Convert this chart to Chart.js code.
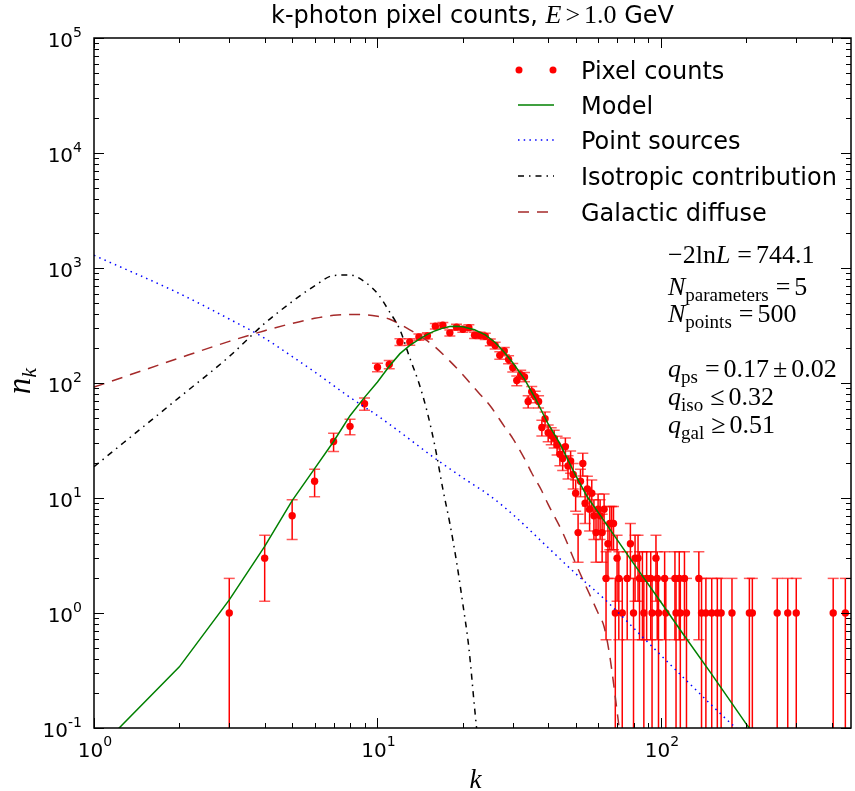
<!DOCTYPE html>
<html>
<head>
<meta charset="utf-8">
<title>k-photon pixel counts</title>
<script src="https://cdn.jsdelivr.net/npm/chart.js@4.4.1/dist/chart.umd.min.js"></script>
<style>
  html, body { margin: 0; padding: 0; background: #fff; }
  canvas { display: block; }
</style>
</head>
<body>
<canvas id="chart" width="855" height="791"></canvas>
<script>
// pixel counts n_k (k = photons per pixel); n_k = 0 is not shown
const countK = [3, 4, 5, 6, 7, 8, 9, 10, 11, 12, 13, 14, 15, 16, 17, 18, 19, 20, 21, 22,
  23, 24, 25, 26, 27, 28, 29, 30, 31, 32, 33, 34, 35, 36, 37, 38, 39, 40, 41, 42,
  43, 44, 45, 46, 47, 48, 49, 50, 51, 52, 53, 54, 55, 56, 57, 58, 59, 60, 61, 62,
  63, 64, 65, 66, 67, 68, 69, 70, 71, 73, 76, 78, 80, 81, 83, 84, 86, 87, 89, 92,
  93, 96, 97, 98, 103, 104, 112, 113, 116, 117, 121, 123, 136, 139, 144, 151, 158, 163, 178, 205,
  210, 257, 280, 300, 405, 447];
const countN = [1, 3, 7, 14, 31, 42, 66, 137, 145, 227, 228, 251, 257, 312, 318, 273, 306, 293, 303, 260,
  260, 255, 226, 212, 174, 190, 160, 136, 105, 118, 113, 69, 84, 76, 69, 41, 49, 37, 35, 33,
  29, 24, 22, 28, 19, 21, 16, 11, 5, 14, 20, 9, 12, 8, 11, 7, 5, 8, 7, 5,
  8, 2, 4, 6, 6, 6, 1, 3, 2, 1, 2, 4, 1, 3, 3, 2, 2, 1, 2, 2,
  1, 3, 2, 1, 2, 1, 2, 1, 2, 1, 2, 1, 2, 1, 1, 1, 1, 1, 1, 1,
  1, 1, 1, 1, 1, 1];

// fitted model and its three components
const modelK = [1, 2, 3, 4, 5, 6, 7, 8, 9, 10, 11, 12, 13, 14, 15, 16, 17, 18, 19, 20,
  22, 24, 26, 28, 30, 33, 36, 40, 44, 50, 55, 61, 70, 80, 100, 120, 150, 200, 210];
const modelN = [0.06, 0.34, 1.3, 3.8, 9.5, 18, 31, 52, 75, 102, 140, 180, 212, 240, 265, 285, 300, 310, 312, 308,
  290, 262, 225, 185, 150, 108, 74, 44, 29.7, 15.7, 10.2, 7.1, 4.35, 2.7, 1.24, 0.65, 0.30, 0.108, 0.093];

const psK = [1, 2, 3, 4, 5, 6, 8, 10, 12, 16, 20, 25, 30, 40, 50, 63, 86, 119, 150, 180, 200];
const psN = [1290, 600, 360, 245, 170, 125, 75, 52, 37.5, 22, 15, 10.4, 7.2, 3.7, 2.2, 1.33, 0.62, 0.28, 0.16, 0.105, 0.085];

const isoK = [1, 2, 3, 4, 5, 6, 7, 8, 9, 10, 11, 12, 13, 14, 15, 16, 17, 18, 19, 20, 21, 22, 23];
const isoN = [18.7, 75, 170, 330, 510, 700, 860, 870, 760, 600, 420, 290, 165, 100, 55, 27, 12, 6, 2.8, 1.2, 0.5, 0.15, 0.05];

const galK = [1, 2, 3, 4, 5, 6, 7, 8, 9, 10, 11, 12, 13, 14, 15, 16, 18, 20, 22, 25,
  28, 30, 33, 35, 38, 40, 45, 50, 55, 60, 63, 66, 70, 72];
const galN = [92, 165, 230, 285, 330, 365, 388, 395, 393, 380, 360, 325, 290, 260, 232, 205, 155, 118, 90, 63,
  42, 33, 22, 16.5, 11.5, 8.8, 5, 2.7, 1.6, 1.0, 0.76, 0.42, 0.14, 0.08];

const xTicks = [1, 10, 100];
const xTickExp = ['0', '1', '2'];
const yTicks = [0.1, 1, 10, 100, 1000, 10000, 100000];
const yTickExp = ['-1', '0', '1', '2', '3', '4', '5'];

const legendLabels = ['Pixel counts', 'Model', 'Point sources', 'Isotropic contribution', 'Galactic diffuse'];

const SANS = '"DejaVu Sans", sans-serif';
const SERIF = '"Liberation Serif", "DejaVu Serif", serif';
const R = px => px + 'px ' + SERIF;
const I = px => 'italic ' + px + 'px ' + SERIF;
const S = px => px + 'px ' + SANS;

const RED = '#ff0000';
const GREEN = '#008000';
const BLUE = '#0000ff';
const BROWN = '#a52a2a';
const DOTS = [1.5, 4.2];
const DASHDOT = [6, 5, 1.5, 5];
const DASHES = [11, 8];

const pts = (xs, ys) => xs.map((x, i) => ({ x: x, y: ys[i] }));

// parts: [text, font, dy] or [gap]
function drawParts(ctx, parts, x, y, align) {
  let w = 0;
  parts.forEach(p => {
    if (typeof p[0] === 'number') { w += p[0]; return; }
    ctx.font = p[1];
    w += ctx.measureText(p[0]).width;
  });
  let cx = align === 'center' ? x - w / 2 : align === 'right' ? x - w : x;
  parts.forEach(p => {
    if (typeof p[0] === 'number') { cx += p[0]; return; }
    ctx.font = p[1];
    ctx.fillText(p[0], cx, y + (p[2] || 0));
    cx += ctx.measureText(p[0]).width;
  });
}

const errorBars = {
  id: 'errorBars',
  beforeDatasetsDraw(chart) {
    const { ctx, chartArea: a, scales: { x, y } } = chart;
    ctx.save();
    ctx.beginPath();
    ctx.rect(a.left, a.top, a.right - a.left, a.bottom - a.top);
    ctx.clip();
    countK.forEach((k, i) => {
      const n = countN[i];
      const e = Math.sqrt(n);
      const px = x.getPixelForValue(k);
      const top = y.getPixelForValue(n + e);
      const lo = n - e;
      const bot = lo > 0 ? y.getPixelForValue(lo) : a.bottom + 2;
      ctx.strokeStyle = RED;
      ctx.lineWidth = 1.5;
      ctx.beginPath();
      ctx.moveTo(px, top);
      ctx.lineTo(px, bot);
      ctx.stroke();
      ctx.strokeStyle = 'rgba(255,0,0,0.65)';
      ctx.beginPath();
      ctx.moveTo(px - 5.5, top); ctx.lineTo(px + 5.5, top);
      if (lo > 0) { ctx.moveTo(px - 5.5, bot); ctx.lineTo(px + 5.5, bot); }
      ctx.stroke();
    });
    ctx.restore();
  }
};

const decorations = {
  id: 'decorations',
  afterDraw(chart) {
    const { ctx, chartArea: a, scales: { x, y } } = chart;
    ctx.save();
    ctx.textAlign = 'left';
    ctx.textBaseline = 'alphabetic';

    // tick marks on all four sides, pointing inwards
    ctx.strokeStyle = '#000';
    ctx.lineWidth = 1;
    ctx.beginPath();
    xTicks.forEach(d => {
      for (let m = 1; m <= 9; m++) {
        const v = m * d;
        if (v > x.max) break;
        const px = Math.round(x.getPixelForValue(v)) + 0.5;
        const len = m === 1 ? 10 : 5;
        ctx.moveTo(px, a.bottom); ctx.lineTo(px, a.bottom - len);
        ctx.moveTo(px, a.top); ctx.lineTo(px, a.top + len);
      }
    });
    yTicks.forEach(d => {
      for (let m = 1; m <= 9; m++) {
        const v = m * d;
        if (v > y.max * 1.0001) break;
        const py = Math.round(y.getPixelForValue(v)) + 0.5;
        const len = m === 1 ? 10 : 5;
        ctx.moveTo(a.left, py); ctx.lineTo(a.left + len, py);
        ctx.moveTo(a.right, py); ctx.lineTo(a.right - len, py);
      }
    });
    ctx.stroke();

    // frame
    ctx.lineWidth = 1.5;
    ctx.strokeRect(a.left, a.top, a.right - a.left, a.bottom - a.top);

    // tick labels
    ctx.fillStyle = '#000';
    xTicks.forEach((v, i) => {
      drawParts(ctx, [['10', S(20)], [xTickExp[i], S(14), -11]], x.getPixelForValue(v) + 1, 757, 'center');
    });
    yTicks.forEach((v, i) => {
      drawParts(ctx, [['10', S(20)], [yTickExp[i], S(14), -10]], 82, y.getPixelForValue(v) + 9, 'right');
    });

    // axis labels and title
    drawParts(ctx, [['k', I(27)]], (a.left + a.right) / 2 + 3, 788, 'center');
    ctx.save();
    ctx.translate(30, 381);
    ctx.rotate(-Math.PI / 2);
    drawParts(ctx, [['n', I(33)], ['k', I(22), 6]], 0, 0, 'center');
    ctx.restore();
    drawParts(ctx, [['k-photon pixel counts, ', S(24)], ['E', I(26)], [4], ['>', R(26)], [4], ['1.0', R(26)], [' GeV', S(24)]],
      (a.left + a.right) / 2, 23, 'center');

    // legend
    const lx0 = 518, lx1 = 554, tx = 581;
    const rowY = [70, 105, 140, 176, 212];
    ctx.fillStyle = RED;
    [lx0 + 1, lx1 - 1].forEach(px => {
      ctx.beginPath(); ctx.arc(px, rowY[0], 3.5, 0, Math.PI * 2); ctx.fill();
    });
    const legLines = [[GREEN, []], [BLUE, DOTS], ['#000', DASHDOT], [BROWN, DASHES]];
    legLines.forEach((l, i) => {
      ctx.strokeStyle = l[0];
      ctx.lineWidth = 1.5;
      ctx.setLineDash(l[1]);
      ctx.beginPath();
      ctx.moveTo(lx0, rowY[i + 1]); ctx.lineTo(lx1, rowY[i + 1]);
      ctx.stroke();
    });
    ctx.setLineDash([]);
    ctx.fillStyle = '#000';
    legendLabels.forEach((t, i) => {
      ctx.font = S(24);
      ctx.fillText(t, tx, rowY[i] + 8.5);
    });

    // fit summary
    const ax = 668;
    const F = 26, SUB = 19;
    const eq = (sym) => [[7], [sym, R(F)], [4]];
    drawParts(ctx, [['\u22122ln', R(F)], ['L', I(F)], ...eq('='), ['744.1', R(F)]], ax, 263, 'left');
    drawParts(ctx, [['N', I(F)], ['parameters', R(SUB), 6], ...eq('='), ['5', R(F)]], ax, 295, 'left');
    drawParts(ctx, [['N', I(F)], ['points', R(SUB), 6], ...eq('='), ['500', R(F)]], ax, 322, 'left');
    drawParts(ctx, [['q', I(F)], ['ps', R(SUB), 6], ...eq('='), ['0.17', R(F)], [4], ['\u00b1', R(F)], [4], ['0.02', R(F)]], ax, 377, 'left');
    drawParts(ctx, [['q', I(F)], ['iso', R(SUB), 6], ...eq('\u2264'), ['0.32', R(F)]], ax, 405, 'left');
    drawParts(ctx, [['q', I(F)], ['gal', R(SUB), 6], ...eq('\u2265'), ['0.51', R(F)]], ax, 433, 'left');
    ctx.restore();
  }
};

const lineSet = (label, xs, ys, color, dash, smooth) => ({
  label: label,
  data: pts(xs, ys),
  showLine: true,
  borderColor: color,
  borderWidth: 1.5,
  borderDash: dash,
  cubicInterpolationMode: smooth ? 'monotone' : 'default',
  pointRadius: 0,
  fill: false,
  order: 0
});

new Chart(document.getElementById('chart'), {
  type: 'scatter',
  data: {
    datasets: [
      {
        label: 'Pixel counts',
        data: pts(countK, countN),
        backgroundColor: RED,
        borderColor: RED,
        pointRadius: 3.7,
        pointBorderWidth: 0,
        order: 1
      },
      lineSet('Model', modelK, modelN, GREEN, [], false),
      lineSet('Point sources', psK, psN, BLUE, DOTS, true),
      lineSet('Isotropic contribution', isoK, isoN, '#000', DASHDOT, true),
      lineSet('Galactic diffuse', galK, galN, BROWN, DASHES, true)
    ]
  },
  options: {
    responsive: false,
    animation: false,
    events: [],
    layout: { padding: { left: 94, right: 3, top: 38, bottom: 63 } },
    scales: {
      x: { type: 'logarithmic', min: 1, max: 468, display: false },
      y: { type: 'logarithmic', min: 0.1, max: 100000, display: false }
    },
    plugins: {
      legend: { display: false },
      tooltip: { enabled: false },
      title: { display: false }
    }
  },
  plugins: [errorBars, decorations]
});
</script>
</body>
</html>
